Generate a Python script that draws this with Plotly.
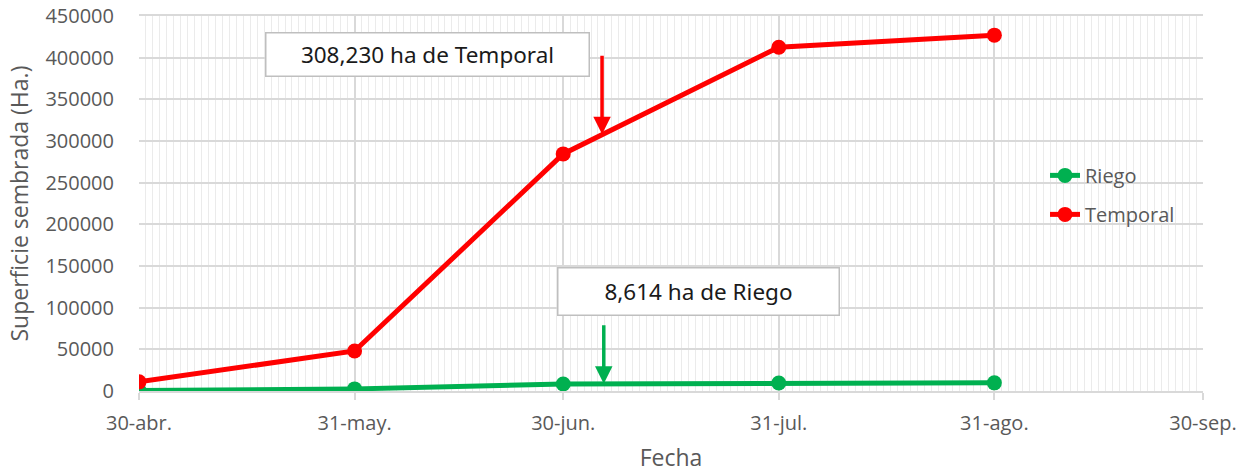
import plotly.graph_objects as go

fechas = ["2023-04-30", "2023-05-31", "2023-06-30", "2023-07-31", "2023-08-31"]
riego = [500, 2500, 8400, 9600, 9800]
temporal = [11000, 48000, 284500, 412500, 427000]

tick_vals = ["2023-04-30", "2023-05-31", "2023-06-30", "2023-07-31", "2023-08-31", "2023-09-30"]
tick_text = ["30-abr.", "31-may.", "30-jun.", "31-jul.", "31-ago.", "30-sep."]

nota_temporal = "308,230 ha de Temporal"
nota_riego = "8,614 ha de Riego"
titulo_y = "Superficie sembrada (Ha.)"
titulo_x = "Fecha"

GREEN = "#00B050"
RED = "#FF0000"
GRAY = "#595959"

fig = go.Figure()
fig.add_trace(go.Scatter(x=fechas, y=riego, name="Riego", mode="lines+markers",
                         line=dict(color=GREEN, width=5), marker=dict(size=15, color=GREEN),
                         legendgroup="a"))
fig.add_trace(go.Scatter(x=fechas, y=temporal, name="Temporal", mode="lines+markers",
                         line=dict(color=RED, width=5), marker=dict(size=15, color=RED),
                         legendgroup="b"))

# arrows
fig.add_annotation(x="2023-07-05 14:00", y=308230, xref="x", yref="y", ax=0, ay=-80,
                   axref="pixel", ayref="pixel", showarrow=True, arrowhead=2, arrowsize=1,
                   arrowwidth=3.5, arrowcolor=RED, text="")
fig.add_annotation(x="2023-07-05 20:00", y=8614, xref="x", yref="y", ax=0, ay=-60,
                   axref="pixel", ayref="pixel", showarrow=True, arrowhead=2, arrowsize=1,
                   arrowwidth=3.5, arrowcolor=GREEN, text="")

# text boxes
fig.add_annotation(x=0.2707, y=0.897, xref="paper", yref="paper", text=nota_temporal,
                   showarrow=False, bgcolor="white", bordercolor="#BFBFBF", borderwidth=1.5,
                   width=320, height=40, borderpad=1, xanchor="center", yanchor="middle",
                   font=dict(family="Noto Sans", size=22.5, color="#1a1a1a"))
fig.add_annotation(x=0.5258, y=0.2653, xref="paper", yref="paper", text=nota_riego,
                   showarrow=False, bgcolor="white", bordercolor="#BFBFBF", borderwidth=1.5,
                   width=278, height=44, borderpad=1, xanchor="center", yanchor="middle",
                   font=dict(family="Noto Sans", size=22.5, color="#1a1a1a"))

# y-axis title as rotated annotation
fig.add_annotation(x=-0.1137, y=0.5, xref="paper", yref="paper", text=titulo_y,
                   showarrow=False, textangle=-90, xanchor="center", yanchor="middle",
                   font=dict(family="Open Sans", size=23, color=GRAY))

fig.update_layout(
    width=1249, height=473,
    margin=dict(l=139, r=46, t=16, b=82, autoexpand=False),
    paper_bgcolor="white", plot_bgcolor="white",
    font=dict(family="Open Sans", color=GRAY, size=20),
    showlegend=True,
    legend=dict(x=0.8515, y=0.627, xanchor="left", yanchor="top", bgcolor="rgba(0,0,0,0)",
                font=dict(size=20, color=GRAY), tracegroupgap=10, traceorder="grouped"),
    xaxis=dict(
        type="date",
        range=["2023-04-30", "2023-09-30"],
        tickvals=tick_vals, ticktext=tick_text,
        showgrid=True, gridcolor="#D9D9D9", gridwidth=1.5,
        ticks="outside", ticklen=7, tickcolor="#D9D9D9", tickwidth=1.5,
        ticklabelstandoff=6,
        showline=True, linecolor="#D9D9D9", linewidth=1.5, mirror=True,
        minor=dict(dtick=86400000, tick0="2023-04-30", showgrid=True, gridcolor="#EBEBEB", gridwidth=1),
        tickfont=dict(size=20, color=GRAY),
        title=dict(text=titulo_x, font=dict(size=23, color=GRAY), standoff=24),
        zeroline=False, automargin=False,
    ),
    yaxis=dict(
        range=[0, 450000], dtick=50000, tickformat="d",
        showgrid=True, gridcolor="#D9D9D9", gridwidth=1.5,
        showline=False, zeroline=False,
        ticks="", ticklabelstandoff=24,
        tickfont=dict(size=20, color=GRAY),
        automargin=False,
    ),
)

fig.write_html("out.html", config={"displayModeBar": False},
               post_script="document.body.style.margin='0px';")
